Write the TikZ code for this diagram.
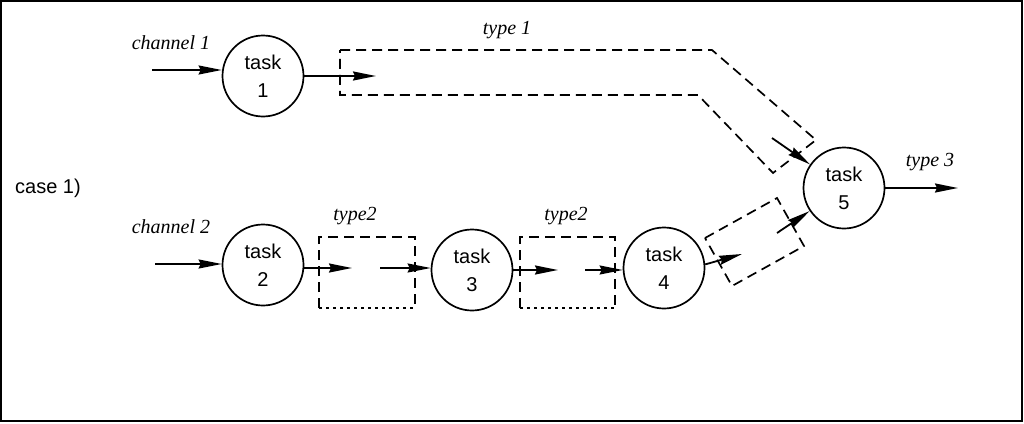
\documentclass[tikz,border=0pt]{standalone}
\usepackage{fontspec}
\setmainfont{Liberation Serif}
\setsansfont{Liberation Sans}
\usetikzlibrary{positioning,arrows.meta}

\begin{document}
\begin{tikzpicture}[
x=1pt,y=-1pt,
task/.style={draw,circle,minimum size=81pt,inner sep=0pt,align=center,font=\fontsize{20}{28}\selectfont\sffamily,line width=1.7pt},
lbl/.style={font=\fontsize{20}{22}\selectfont\itshape},
grp/.style={draw,line width=1.7pt,dash pattern=on 10pt off 6pt},
arr/.style={line width=1.8pt,-{Stealth[length=23pt,width=9pt,inset=2pt]}},
>=Stealth]
\useasboundingbox (0,0) rectangle (1024,423);
\draw[line width=1.6pt] (1,1) rectangle (1022,421);

\node[task] (t1) at (263,76) {task\\1};
\node[task] (t2) at (263,265) {task\\2};
\node[task] (t3) at (472,270) {task\\3};
\node[task] (t4) at (664,268) {task\\4};
\node[task] (t5) at (844,188) {task\\5};

\node[lbl] (ch1) at (171,43) {channel 1};
\node[lbl] (ch2) at (171,227) {channel 2};
\node[lbl] (ty1) at (507,30) {type 1};
\node[lbl] (ty2a) at (355,216) {type2};
\node[lbl] (ty2b) at (566,216) {type2};
\node[lbl] (ty3) at (930,162) {type 3};
\node[font=\fontsize{20}{22}\selectfont\sffamily] (case) at (48,188) {case 1)};

% dashed groups
\draw[grp] (340,50) -- (712,50) -- (816,140) -- (773,173) -- (698,95) -- (340,95) -- cycle;
\draw[grp] (319,308) -- (319,237) -- (415,237) -- (415,308);
\draw[grp,line width=1.2pt,dash pattern=on 3pt off 4pt] (319,308) -- (415,308);
\draw[grp] (520,308) -- (520,237) -- (615,237) -- (615,308);
\draw[grp,line width=1.2pt,dash pattern=on 3pt off 4pt] (520,308) -- (615,308);
\draw[grp] (705,238) -- (777,198) -- (804,246) -- (732,286) -- cycle;

\coordinate (in1) at (152,70);
\coordinate (h1) at (376,76);
\coordinate (in2) at (155,264);
\coordinate (h2) at (352,268);
\coordinate (g2) at (380,268);
\coordinate (h3) at (558,270);
\coordinate (g3) at (585,270);
\coordinate (h4) at (742,254);
\coordinate (g4) at (777,233);
\coordinate (g1) at (772,138);
\coordinate (out5) at (958,188);

\draw[arr] (in1) -- (in1 -| t1.west);
\draw[arr] (t1.east) -- (h1);
\draw[arr] (in2) -- (in2 -| t2.west);
\draw[arr] (t2.east |- h2) -- (h2);
\draw[arr] (g2) -- (g2 -| t3.west);
\draw[arr] (t3.east |- h3) -- (h3);
\draw[arr] (g3) -- (g3 -| t4.west);
\draw[arr] (t4.5) -- (h4);
\draw[arr] (g1) -- (t5);
\draw[arr] (g4) -- (t5);
\draw[arr] (t5) -- (out5);
\end{tikzpicture}
\end{document}
